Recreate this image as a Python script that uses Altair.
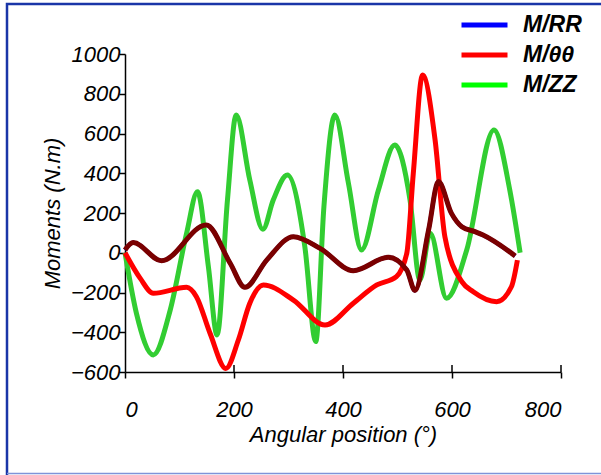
import altair as alt
import pandas as pd

# Angular position (deg) and moment (N.m) for each component
zz_angle = [0, 21, 52, 83, 113, 133, 153, 169, 188, 204, 229, 253, 272, 298, 330,
            350, 365, 385, 410, 434, 465, 495, 523, 541, 560, 590, 627, 677, 706, 725]
zz_moment = [0, -305, -514, -288, 98, 307, -70, -414, 265, 693, 366, 118, 265, 391, 30,
             -447, 232, 693, 349, 14, 316, 542, 265, -137, 98, -229, 14, 618, 316, 0]

tt_angle = [0, 28, 52, 113, 131, 156, 185, 208, 229, 254, 309, 367, 419, 462, 498,
            517, 529, 546, 569, 587, 618, 639, 682, 709, 720]
tt_moment = [0, -129, -204, -174, -221, -405, -582, -439, -254, -162, -238, -364, -254, -162, -120,
             -3, 400, 894, 567, 80, -145, -196, -246, -171, -37]

res_angle = [0, 15, 67, 149, 193, 220, 260, 309, 358, 419, 483, 517, 532, 557, 575,
             599, 618, 642, 657, 716]
res_moment = [14, 51, -40, 140, -53, -174, -37, 81, 22, -90, -23, -87, -190, 114, 358,
              198, 131, 106, 89, -16]

# M/RR runs underneath the resultant curve
rr_angle = res_angle
rr_moment = res_moment

series_names = ["M/RR", "M/θθ", "M/ZZ"]
legend_colors = ["#0000ff", "#ff0000", "#00ff00"]
zz_line_color = "#32cd32"
x_ticks = [0, 200, 400, 600, 800]
y_ticks = [-600, -400, -200, 0, 200, 400, 600, 800, 1000]

rows = []
for name, xs, ys in [("M/RR", rr_angle, rr_moment), ("M/θθ", tt_angle, tt_moment),
                     ("M/ZZ", zz_angle, zz_moment), ("resultant", res_angle, res_moment)]:
    for a, m in zip(xs, ys):
        rows.append({"series": name, "angle": a, "moment": m})
df = pd.DataFrame(rows)

FONT = "Liberation Sans"
W, H = 436, 318

x_enc = alt.X("angle:Q", scale=alt.Scale(domain=[0, 800], nice=False, zero=False),
              axis=alt.Axis(values=x_ticks, format="d", title="Angular position (°)", grid=False,
                            tickSize=6, labelPadding=21, titlePadding=4,
                            labelFontSize=22, titleFontSize=22))
y_enc = alt.Y("moment:Q", scale=alt.Scale(domain=[-600, 1000], nice=False, zero=False),
              axis=alt.Axis(values=y_ticks, format="d", title="Moments (N.m)", grid=False,
                            tickSize=6, labelPadding=-1, titlePadding=6,
                            labelFontSize=22, titleFontSize=22))
color_enc = alt.Color(
    "series:N",
    scale=alt.Scale(domain=series_names, range=legend_colors),
    legend=alt.Legend(
        title=None, orient="none", legendX=334, legendY=-43,
        symbolType="stroke", symbolSize=2116, symbolStrokeWidth=5,
        labelFont=FONT, labelFontSize=23, labelFontWeight="bold", labelFontStyle="italic",
        labelColor="#000000", labelOffset=13, clipHeight=28, rowPadding=2, padding=0,
    ),
)

base = alt.Chart(df)


def curve(name, width, color=None):
    enc = {"x": x_enc, "y": y_enc, "color": color_enc if color is None else alt.value(color)}
    return base.transform_filter(alt.datum.series == name).mark_line(
        strokeWidth=width, interpolate="monotone"
    ).encode(**enc)


blue = curve("M/RR", 4)
green = curve("M/ZZ", 5, zz_line_color)
red = curve("M/θθ", 5)
resultant = curve("resultant", 5, "#7a0000")

# inner half of the crossing x ticks
tick_df = pd.DataFrame({"angle": x_ticks[1:]})
inner_ticks = alt.Chart(tick_df).mark_rule(color="black", strokeWidth=1.5).encode(
    x="angle:Q", y=alt.value(H), y2=alt.value(H - 7)
)

# outer frame of the figure
frame_df = pd.DataFrame({"k": [0]})
frame = alt.Chart(frame_df).mark_rect(
    fill=None, fillOpacity=0, stroke="#1a35a8", strokeWidth=2.5
).encode(x=alt.value(-118), x2=alt.value(520), y=alt.value(-50), y2=alt.value(440))
frame_bottom = alt.Chart(frame_df).mark_rule(color="#7f93d8", strokeWidth=1.5).encode(
    x=alt.value(-118), x2=alt.value(480), y=alt.value(419.5)
)

chart = alt.layer(frame, frame_bottom, blue, green, red, resultant, inner_ticks).properties(
    width=W, height=H,
    autosize=alt.AutoSizeParams(type="none"),
    padding={"left": 125, "top": 54, "right": 40, "bottom": 103},
    background="white",
).configure_view(stroke=None).configure_axis(
    domainColor="black", domainWidth=1.5, tickColor="black", tickWidth=1.5,
    labelFont=FONT, titleFont=FONT, labelFontStyle="italic", titleFontStyle="italic",
    titleFontWeight="normal", labelColor="black", titleColor="black",
)

chart.save("out.html", embed_options={"renderer": "svg", "actions": False})
